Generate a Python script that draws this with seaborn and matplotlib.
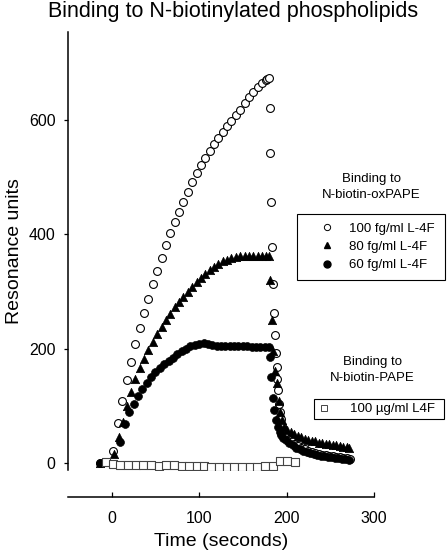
import matplotlib
matplotlib.use("Agg")
import pandas as pd
import matplotlib.pyplot as plt
import seaborn as sns
from matplotlib.lines import Line2D

# ---------------------------------------------------------------
# data (time in s, response in RU)
# ---------------------------------------------------------------
# 100 fg/ml L-4F on N-biotin-oxPAPE (open circles)
t_ox100 = [-13, 2, 7, 12, 17, 22, 27, 32, 37, 42, 47, 52, 57, 62, 67, 72, 77, 82, 87,
           92, 97, 102, 107, 112, 117, 122, 127, 132, 137, 142, 147, 152, 157, 162,
           167, 172, 176, 178, 180,
           180.5, 181, 182, 183, 184.5, 185.5, 186.5, 187.5, 188.5, 189.5, 190.5,
           191.5, 192.5, 193.5, 195,
           197, 201, 205, 209, 213, 217, 221, 225, 229, 233, 237, 241, 245, 249,
           253, 257, 261, 265, 269, 272]
ru_ox100 = [0, 21, 69, 108, 144, 176, 208, 236, 262, 287, 313, 336, 358, 381, 403, 421,
            439, 457, 475, 492, 508, 521, 534, 547, 558, 569, 579, 590, 599, 609, 618,
            631, 641, 650, 658, 666, 671, 673, 675,
            622, 542, 457, 378, 313, 263, 224, 192, 167, 146, 128, 102, 88, 77, 65,
            56, 47, 39, 33, 29, 25, 23, 21, 19, 17, 15, 14, 13, 12, 11, 10, 9, 8, 8, 7]

# 80 fg/ml L-4F on N-biotin-oxPAPE (filled triangles)
t_ox80 = [-13, 3, 8, 13, 18, 22, 27, 32, 37, 42, 47, 52, 57, 62, 67, 72, 77, 82, 87, 92,
          97, 102, 107, 112, 117, 122, 127, 132, 137, 142, 147, 152, 157, 162, 167,
          172, 177, 180,
          181, 183, 185, 187, 189, 191, 193, 195,
          197, 201, 205, 209, 213, 217, 221, 225, 229, 233, 237, 241, 245, 249, 253,
          257, 261, 265, 269, 271]
ru_ox80 = [0, 15, 45, 72, 100, 123, 146, 165, 182, 198, 212, 226, 238, 250, 261, 272,
           281, 290, 299, 308, 316, 324, 331, 337, 343, 348, 353, 356, 359, 361, 362,
           362, 362, 362, 362, 362, 362, 362,
           320, 250, 195, 160, 140, 108, 88, 74,
           63, 57, 53, 50, 47, 44, 42, 40, 38, 37, 35, 34, 33, 32, 31, 30, 29, 28, 27, 26]

# 60 fg/ml L-4F on N-biotin-oxPAPE (filled circles)
t_ox60 = [-13, 10, 15, 20, 25, 30, 35, 40, 45, 50, 55, 60, 65, 70, 75, 80, 85, 90, 95,
          100, 105, 110, 115, 120, 125, 130, 135, 140, 145, 150, 155, 160, 165, 170,
          175, 180,
          181, 182.5, 184, 186, 188, 190, 192, 194, 196,
          199, 203, 207, 211, 215, 219, 223, 227, 231, 235, 239, 243, 247, 251, 255,
          259, 263, 267, 271]
ru_ox60 = [0, 36, 68, 88, 103, 117, 129, 140, 150, 158, 165, 172, 178, 184, 190, 196,
           200, 204, 206, 208, 209, 208, 206, 205, 204, 205, 205, 204, 205, 204, 204,
           203, 203, 202, 202, 203,
           185, 150, 114, 92, 75, 62, 54, 48, 43,
           39, 34, 30, 26, 23, 21, 19, 17, 15, 14, 12, 11, 10, 9, 8, 8, 7, 6, 5]

# 100 ug/ml L4F on N-biotin-PAPE (open squares)
t_pape = [-7, 2, 10, 19, 28, 36, 45, 54, 62, 71, 80, 88, 97, 106, 114, 123, 132, 140,
          149, 158, 166, 175, 184, 192, 201, 210]
ru_pape = [1, -2, -4, -5, -5, -5, -5, -6, -5, -5, -6, -6, -6, -6, -7, -7, -7, -8, -7,
           -7, -7, -6, -6, 2, 3, 1]

labels_ox = ['100 fg/ml L-4F', '80 fg/ml L-4F', '60 fg/ml L-4F']
label_pape = '100 \u00b5g/ml L4F'

sns.set_style("ticks")
plt.rcParams['font.family'] = ['Liberation Sans', 'DejaVu Sans']
plt.rcParams.update({'text.color': 'black', 'axes.labelcolor': 'black',
                     'xtick.color': 'black', 'ytick.color': 'black',
                     'axes.edgecolor': 'black'})

W, H = 448, 559
fig = plt.figure(figsize=(W / 100, H / 100), dpi=100)
ax = fig.add_axes([68 / W, 1 - 470 / H, (374 - 68) / W, (470 - 32) / H])

df_100 = pd.DataFrame({'time': t_ox100, 'ru': ru_ox100})
df_80 = pd.DataFrame({'time': t_ox80, 'ru': ru_ox80})
df_60 = pd.DataFrame({'time': t_ox60, 'ru': ru_ox60})
df_pape = pd.DataFrame({'time': t_pape, 'ru': ru_pape})

sns.scatterplot(data=df_100, x='time', y='ru', marker='o', s=32, color='white',
                edgecolor='black', linewidth=0.8, ax=ax)
sns.scatterplot(data=df_80, x='time', y='ru', marker='^', s=36, color='black',
                edgecolor='black', linewidth=0.5, ax=ax)
sns.scatterplot(data=df_60, x='time', y='ru', marker='o', s=32, color='black',
                edgecolor='black', linewidth=0.5, ax=ax)
sns.scatterplot(data=df_pape, x='time', y='ru', marker='s', s=28, color='white',
                edgecolor='#444444', linewidth=0.8, ax=ax)

ax.set_xlim(-50, 300)
ax.set_ylim(-13, 755)
ax.set_xticks([0, 100, 200, 300])
ax.set_yticks([0, 200, 400, 600])
sns.despine(ax=ax)
ax.spines['bottom'].set_position(('outward', 19.4))
for sp in ['left', 'bottom']:
    ax.spines[sp].set_linewidth(1.1)
ax.tick_params(axis='x', direction='in', length=3.5, width=0.9, pad=10, labelsize=11.5)
ax.tick_params(axis='y', direction='out', length=3, width=0.9, pad=6, labelsize=11.5)
ax.set_xlabel('Time (seconds)', fontsize=14, labelpad=5)
ax.set_ylabel('Resonance units', fontsize=14, labelpad=4)

fig.text(233 / W, 1 - 12 / H, 'Binding to N-biotinylated phospholipids',
         ha='center', va='center', fontsize=15.5)

# legend headers
fig.text(371 / W, 1 - 187 / H, 'Binding to\nN-biotin-oxPAPE', ha='center',
         va='center', fontsize=9.5, linespacing=1.35)
fig.text(372 / W, 1 - 370 / H, 'Binding to\nN-biotin-PAPE', ha='center',
         va='center', fontsize=9.5, linespacing=1.35)

h_ox = [Line2D([], [], ls='', marker='o', ms=4.5, mfc='white', mec='black', mew=0.7),
        Line2D([], [], ls='', marker='^', ms=5, mfc='black', mec='black'),
        Line2D([], [], ls='', marker='o', ms=5, mfc='black', mec='black')]
leg1 = ax.legend(h_ox, labels_ox, loc='upper left',
                 bbox_to_anchor=(297 / W, 1 - 214 / H, 148 / W, 0),
                 bbox_transform=fig.transFigure, mode='expand', borderaxespad=0,
                 frameon=True, fancybox=False, edgecolor='black', framealpha=1,
                 fontsize=9.5, handlelength=3.3, handletextpad=0, borderpad=0.65,
                 labelspacing=0.45)
leg1.get_frame().set_linewidth(0.8)
ax.add_artist(leg1)

h_pape = [Line2D([], [], ls='', marker='s', ms=4.5, mfc='white', mec='#444444', mew=0.7)]
leg2 = ax.legend(h_pape, [label_pape], loc='upper left',
                 bbox_to_anchor=(314 / W, 1 - 399 / H, 130 / W, 0),
                 bbox_transform=fig.transFigure, mode='expand', borderaxespad=0,
                 frameon=True, fancybox=False, edgecolor='black', framealpha=1,
                 fontsize=9.5, handlelength=0.9, handletextpad=1.5, borderpad=0.3)
leg2.get_frame().set_linewidth(0.8)

fig.savefig('out.png', dpi=100)
